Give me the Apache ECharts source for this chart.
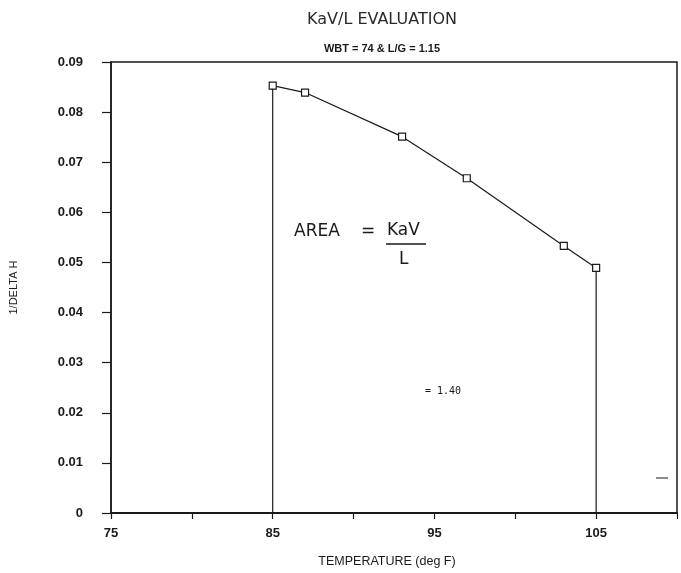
<!DOCTYPE html>
<html>
<head>
<meta charset="utf-8">
<script src="https://cdn.jsdelivr.net/npm/echarts@6/dist/echarts.min.js"></script>
<style>
  html, body { margin: 0; padding: 0; background: #fff; }
  #chart { width: 681px; height: 573px; }
</style>
</head>
<body>
<div id="chart"></div>
<script>
// Water temperature (deg F) and 1/(delta H) readings
const temperatures = [85, 87, 93, 97, 103, 105];
const inverseDeltaH = [0.0853, 0.0839, 0.0751, 0.0668, 0.0533, 0.0489];
const xLabelTicks = [75, 85, 95, 105];
const yTicks = [0, 0.01, 0.02, 0.03, 0.04, 0.05, 0.06, 0.07, 0.08, 0.09];

const curve = temperatures.map((t, i) => [t, inverseDeltaH[i]]);
const last = temperatures.length - 1;
// Integration bounds: drop lines from the first and last points to the axis
const leftBound = [[temperatures[0], 0], [temperatures[0], inverseDeltaH[0]]];
const rightBound = [[temperatures[last], 0], [temperatures[last], inverseDeltaH[last]]];

const ink = '#1a1a1a';
const font = 'Liberation Sans';

const chart = echarts.init(document.getElementById('chart'), null, { renderer: 'canvas' });
chart.setOption({
  backgroundColor: '#ffffff',
  animation: false,
  title: [
    {
      text: 'KaV/L EVALUATION',
      left: 377, top: 7, textAlign: 'center',
      textStyle: { fontFamily: 'DejaVu Sans', fontSize: 16, fontWeight: 'normal', color: '#2a2a2a' }
    },
    {
      text: 'WBT = 74 & L/G = 1.15',
      left: 377, top: 38, textAlign: 'center',
      textStyle: { fontFamily: font, fontSize: 11, fontWeight: 'bold', color: ink }
    }
  ],
  grid: {
    left: 111, right: 4, top: 62, bottom: 60,
    show: true, borderColor: ink, borderWidth: 1.5, backgroundColor: 'transparent'
  },
  xAxis: {
    type: 'value', min: 75, max: 110, interval: 5,
    name: 'TEMPERATURE (deg F)', nameLocation: 'middle', nameGap: 42,
    nameTextStyle: { fontFamily: font, fontSize: 12.5, color: ink, padding: [0, 14, 0, 0] },
    axisLine: { lineStyle: { color: ink, width: 2 } },
    axisTick: { length: 6, lineStyle: { color: ink, width: 1.2 } },
    axisLabel: {
      margin: 14, fontFamily: font, fontSize: 13, fontWeight: 'bold', color: ink,
      formatter: v => (xLabelTicks.includes(v) ? String(v) : '')
    },
    splitLine: { show: false }
  },
  yAxis: {
    type: 'value', min: 0, max: 0.09, interval: 0.01,
    name: '1/DELTA H', nameLocation: 'middle', nameGap: 92, nameRotate: 90,
    nameTextStyle: { fontFamily: font, fontSize: 11, color: ink },
    axisLine: { lineStyle: { color: ink, width: 1.5 } },
    axisTick: { length: 9, lineStyle: { color: ink, width: 1.2 } },
    axisLabel: {
      margin: 28, fontFamily: font, fontSize: 13, fontWeight: 'bold', color: ink,
      formatter: v => {
        const hit = yTicks.find(t => Math.abs(t - v) < 1e-9);
        if (hit === undefined) return '';
        return hit === 0 ? '0' : hit.toFixed(2);
      }
    },
    splitLine: { show: false }
  },
  series: [
    {
      type: 'line', data: curve,
      symbol: 'rect', symbolSize: 7,
      itemStyle: { color: '#ffffff', borderColor: ink, borderWidth: 1.2 },
      lineStyle: { color: ink, width: 1.2 },
      z: 5
    },
    {
      type: 'line', data: leftBound, symbol: 'none',
      lineStyle: { color: ink, width: 1.2 }
    },
    {
      type: 'line', data: rightBound, symbol: 'none',
      lineStyle: { color: ink, width: 1.2 }
    }
  ],
  graphic: [
    {
      type: 'text', left: 294, top: 223,
      style: { text: 'AREA', font: '17px "DejaVu Sans"', fill: ink }
    },
    {
      type: 'text', left: 361, top: 223,
      style: { text: '=', font: '17px "DejaVu Sans"', fill: ink }
    },
    {
      type: 'text', left: 387, top: 222,
      style: { text: 'KaV', font: '17px "DejaVu Sans"', fill: ink }
    },
    {
      type: 'line', shape: { x1: 386, y1: 244, x2: 426, y2: 244 },
      style: { stroke: ink, lineWidth: 1.5 }
    },
    {
      type: 'text', left: 399, top: 251,
      style: { text: 'L', font: '17px "DejaVu Sans"', fill: ink }
    },
    {
      type: 'text', left: 425, top: 386,
      style: { text: '= 1.40', font: '10px "DejaVu Sans Mono"', fill: ink }
    },
    {
      type: 'line', shape: { x1: 656, y1: 478, x2: 668, y2: 478 },
      style: { stroke: '#666', lineWidth: 1.5 }
    }
  ]
});
</script>
</body>
</html>
